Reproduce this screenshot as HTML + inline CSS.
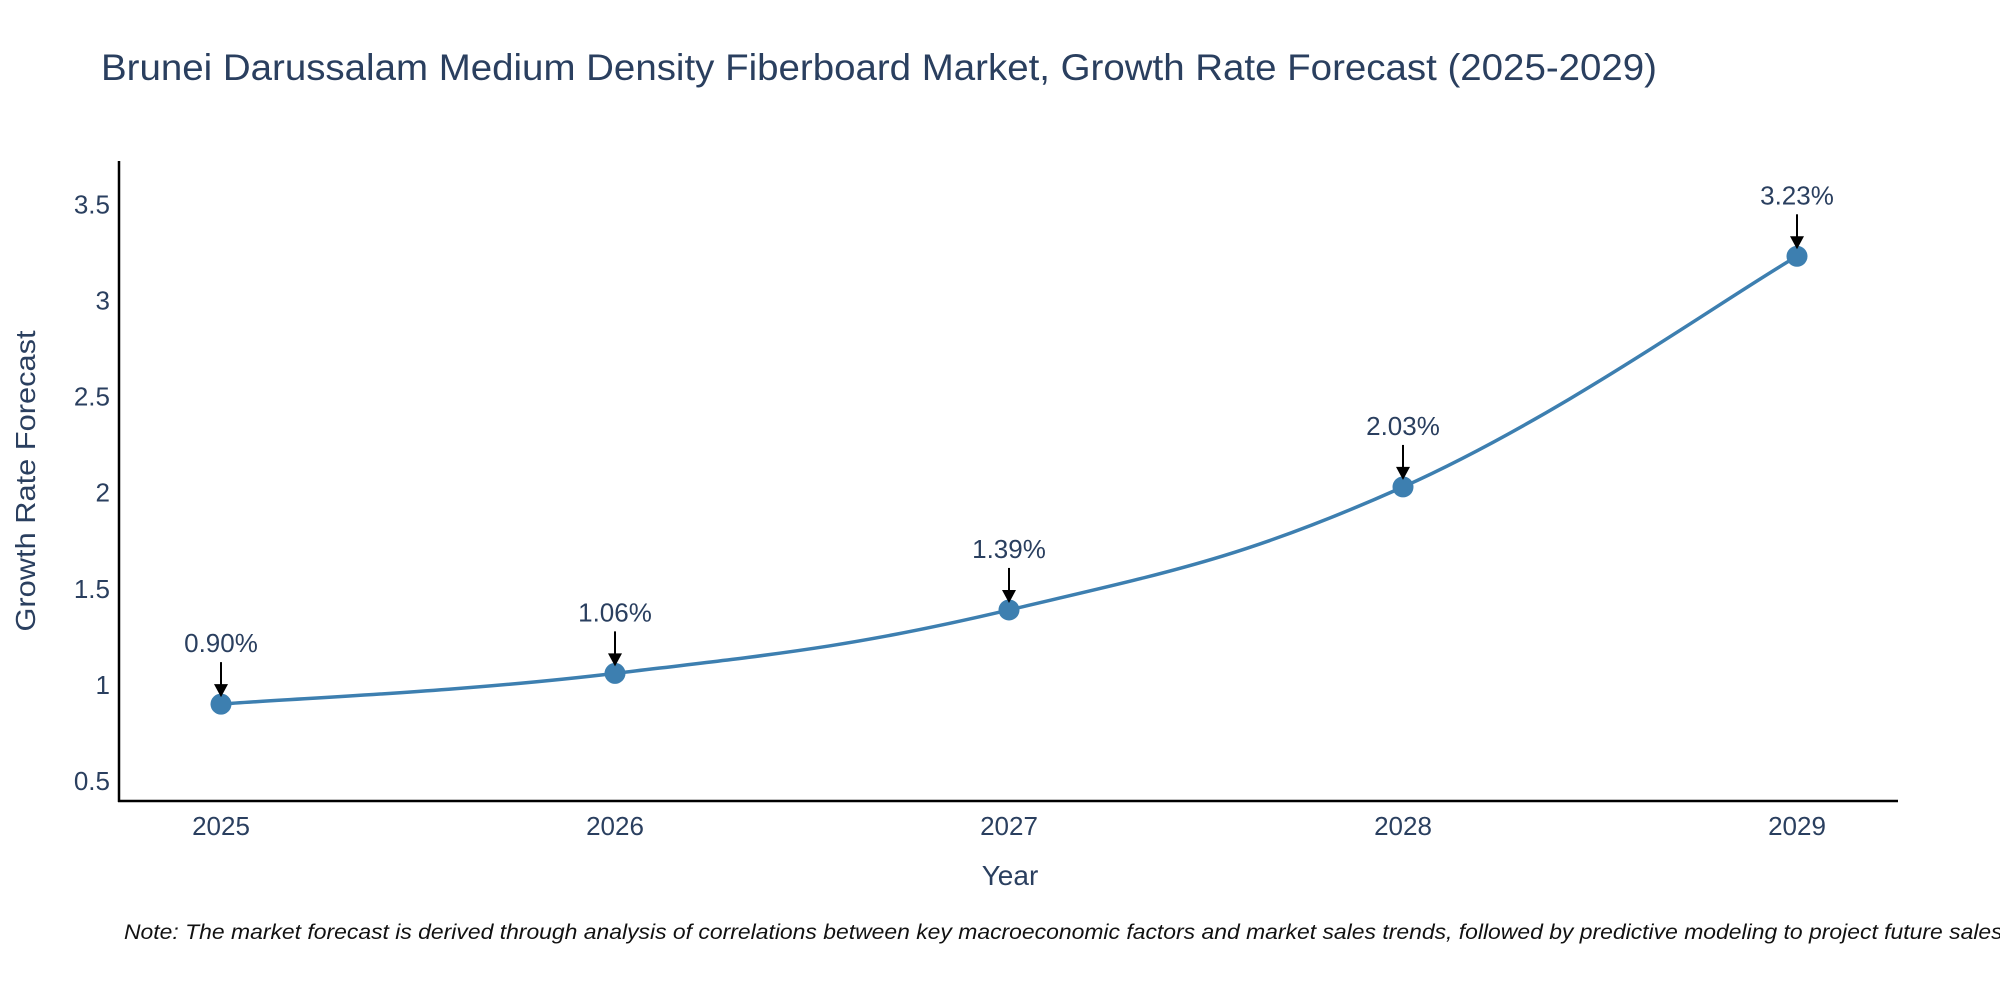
<!DOCTYPE html>
<html><head><meta charset="utf-8"><style>
body{margin:0;background:#fff;width:2000px;height:1000px;overflow:hidden;font-family:"Liberation Sans",sans-serif}
</style></head><body>
<svg id="chart" width="2000" height="1000" viewBox="0 0 2000 1000">
<text x="101" y="80" font-size="37" fill="#2a3f5f" textLength="1556" lengthAdjust="spacingAndGlyphs">Brunei Darussalam Medium Density Fiberboard Market, Growth Rate Forecast (2025-2029)</text>
<g id="axes"></g>
<g id="series"></g>
<text x="1010" y="885" font-size="28" fill="#2a3f5f" text-anchor="middle">Year</text>
<text transform="translate(35,481) rotate(-90)" font-size="28" fill="#2a3f5f" text-anchor="middle" textLength="301" lengthAdjust="spacingAndGlyphs">Growth Rate Forecast</text>
<text x="124" y="939" font-size="21" font-style="italic" fill="#111" textLength="1885" lengthAdjust="spacingAndGlyphs">Note: The market forecast is derived through analysis of correlations between key macroeconomic factors and market sales trends, followed by predictive modeling to project future sales.</text>
</svg>
<script>
const years=[2025,2026,2027,2028,2029];
const values=[0.90,1.06,1.39,2.03,3.23];
const labels=["0.90%","1.06%","1.39%","2.03%","3.23%"];
const yTicks=[0.5,1,1.5,2,2.5,3,3.5];
const yTickLabels=["0.5","1","1.5","2","2.5","3","3.5"];
const NS="http://www.w3.org/2000/svg";
const x=v=>221+(v-2025)*394;
const y=v=>781-(v-0.5)*192.2;
function mk(tag,attrs,parent){const e=document.createElementNS(NS,tag);for(const k in attrs)e.setAttribute(k,attrs[k]);parent.appendChild(e);return e;}
const axes=document.getElementById('axes'),ser=document.getElementById('series');
let a=mk('line',{x1:119,y1:161,x2:119,y2:802,stroke:'#000','stroke-width':2.5},axes);


a=mk('line',{x1:118,y1:801,x2:1898,y2:801,stroke:'#000','stroke-width':2.5},axes);


yTicks.forEach((t,i)=>{const e=mk('text',{x:110,y:y(t)+9,'font-size':26,fill:'#2a3f5f','text-anchor':'end'},axes);e.textContent=yTickLabels[i];

});
years.forEach(t=>{const e=mk('text',{x:x(t),y:835,'font-size':26,fill:'#2a3f5f','text-anchor':'middle'},axes);e.textContent=String(t);

});
const pts=years.map((t,i)=>[x(t),y(values[i])]);
let d='M'+pts[0][0]+','+pts[0][1];
const s=0.2;
for(let i=0;i<pts.length-1;i++){const p0=pts[Math.max(0,i-1)],p1=pts[i],p2=pts[i+1],p3=pts[Math.min(pts.length-1,i+2)];
const c1=[p1[0]+(p2[0]-p0[0])*s,p1[1]+(p2[1]-p0[1])*s],c2=[p2[0]-(p3[0]-p1[0])*s,p2[1]-(p3[1]-p1[1])*s];
d+=' C'+c1+' '+c2+' '+p2;}
const line=mk('path',{d:d,fill:'none',stroke:'#3d7fb0','stroke-width':3.5},ser);


pts.forEach((p,i)=>{
const c=mk('circle',{cx:p[0],cy:p[1],r:10.5,fill:'#3d7fb0'},ser);


const l=mk('line',{x1:p[0],y1:p[1]-42,x2:p[0],y2:p[1]-18,stroke:'#000','stroke-width':2},ser);


const h=mk('polygon',{points:`${p[0]-7},${p[1]-20} ${p[0]+7},${p[1]-20} ${p[0]},${p[1]-7}`,fill:'#000'},ser);


const t=mk('text',{x:p[0],y:p[1]-52,'font-size':26,fill:'#2a3f5f','text-anchor':'middle'},ser);t.textContent=labels[i];


});
</script>
</body></html>
